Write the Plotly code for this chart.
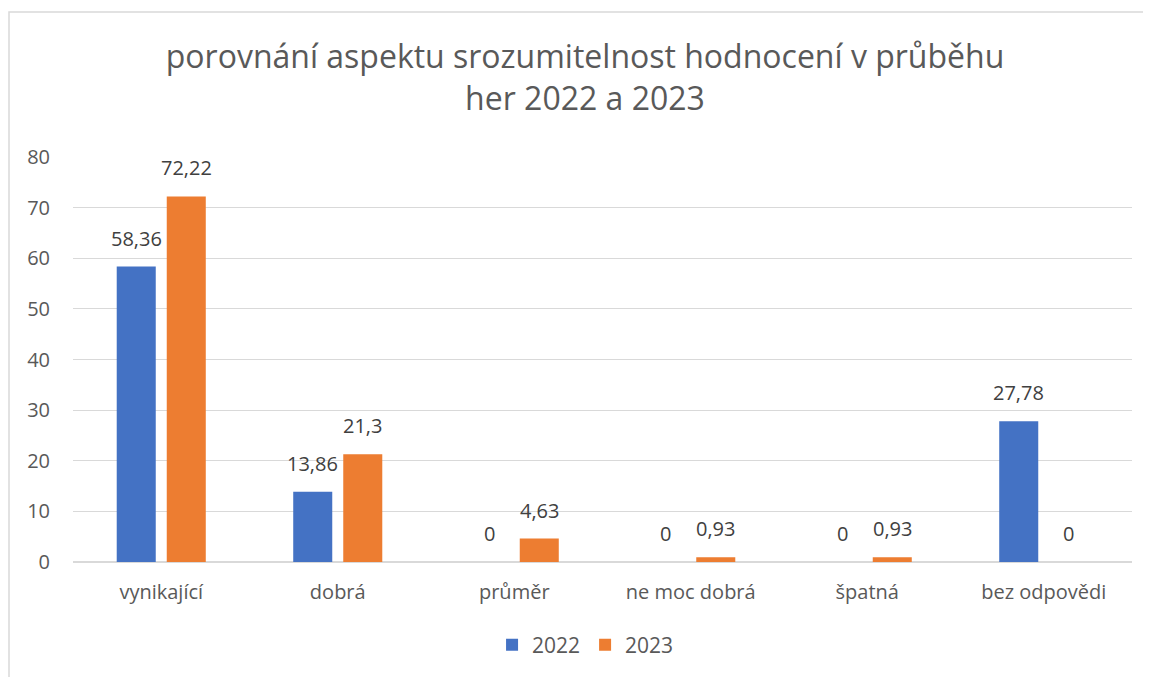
import plotly.graph_objects as go

categories = ["vynikající", "dobrá", "průměr", "ne moc dobrá", "špatná", "bez odpovědi"]
values_2022 = [58.36, 13.86, 0, 0, 0, 27.78]
values_2023 = [72.22, 21.3, 4.63, 0.93, 0.93, 0]
series_names = ["2022", "2023"]
colors = ["#4472C4", "#ED7D31"]
y_ticks = [0, 10, 20, 30, 40, 50, 60, 70, 80]

FONT = "Open Sans"

def fmt(v):
    s = ("%g" % v)
    return s.replace(".", ",")

fig = go.Figure()
for name, vals, col in zip(series_names, [values_2022, values_2023], colors):
    fig.add_trace(go.Bar(x=categories, y=vals, name=name, marker_color=col,
                         marker_line_width=0))

annotations = []
for shift, vals in zip([-25, 25], [values_2022, values_2023]):
    for c, v in zip(categories, vals):
        annotations.append(dict(x=c, y=v, xref="x", yref="y", text=fmt(v),
                                showarrow=False, xshift=shift, yshift=13,
                                yanchor="bottom",
                                font=dict(family=FONT, size=20, color="#404040")))

fig.update_layout(
    width=1151, height=677,
    margin=dict(l=65, r=27, t=149, b=123),
    paper_bgcolor="white", plot_bgcolor="white",
    title=dict(text="porovnání aspektu srozumitelnost hodnocení v průběhu<br>her 2022 a 2023",
               x=(585 - 8) / 1151, xanchor="center", xref="container",
               y=1 - 60 / 677, yanchor="top", yref="container",
               font=dict(family=FONT, size=32, color="#595959")),
    bargap=0.433, bargroupgap=0.22, barmode="group",
    showlegend=True,
    legend=dict(orientation="h", x=0.484, xanchor="center", y=-0.205, yanchor="middle",
                font=dict(family=FONT, size=21, color="#595959"), itemwidth=30,
                traceorder="normal"),
    annotations=annotations,
    shapes=[dict(type="rect", xref="paper", yref="paper",
                 x0=(1 - 65) / 1059, x1=1.2, y0=-0.5, y1=(554 - 4) / 405,
                 line=dict(color="#D9D9D9", width=1.5), fillcolor="rgba(0,0,0,0)",
                 layer="below")],
)
fig.update_xaxes(showgrid=False, showline=False, zeroline=False, ticks="",
                 tickfont=dict(family=FONT, size=20, color="#595959"),
                 ticklabelstandoff=16)
fig.update_yaxes(range=[0, 80], tickvals=y_ticks, showgrid=True, gridcolor="#D9D9D9",
                 gridwidth=1, zeroline=True, zerolinecolor="#D9D9D9", zerolinewidth=1.5,
                 showline=False, ticks="",
                 tickfont=dict(family=FONT, size=20, color="#595959"),
                 ticklabelstandoff=22)

fig.write_html("out.html")
